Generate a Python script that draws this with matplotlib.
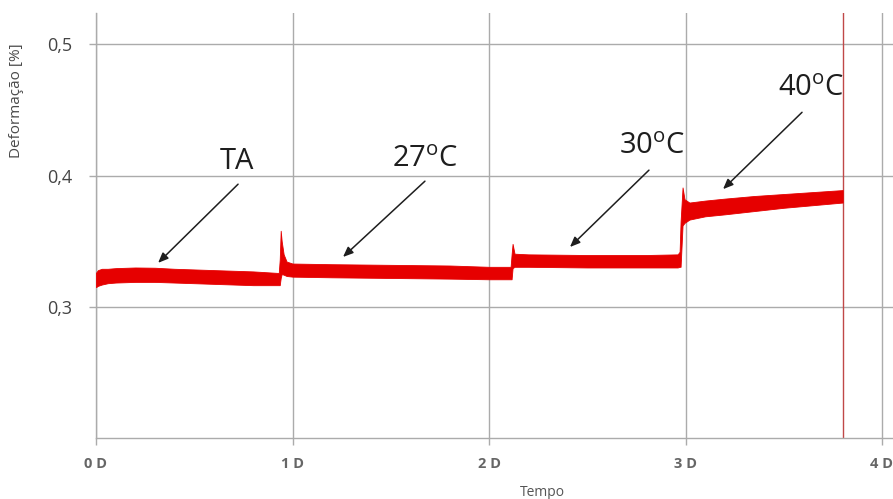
import matplotlib
matplotlib.use("Agg")
import matplotlib.pyplot as plt

plt.rcParams["font.family"] = ["Open Sans", "DejaVu Sans"]

RED = "#e60000"
GRID = "#ababab"
TXT = "#444444"

# deformation band (lower / upper envelope) vs time in days
t = [0.000, 0.010, 0.030, 0.060, 0.100, 0.200, 0.300, 0.400, 0.500, 0.600, 0.700, 0.800, 0.930,
     0.935, 0.940, 0.945, 0.955, 0.970,
     1.000, 1.200, 1.500, 1.800, 2.000, 2.110,
     2.115, 2.120, 2.130,
     2.200, 2.500, 2.800, 2.960, 2.970,
     2.975, 2.985, 2.995,
     3.020, 3.100, 3.200, 3.350, 3.500, 3.650, 3.800]
lo = [0.315, 0.316, 0.317, 0.318, 0.3185, 0.319, 0.319, 0.3185, 0.318, 0.3175, 0.317, 0.3165, 0.3165,
      0.3165, 0.322, 0.325, 0.3245, 0.3235,
      0.323, 0.3225, 0.322, 0.3215, 0.321, 0.321,
      0.321, 0.3295, 0.3305,
      0.3305, 0.330, 0.330, 0.330, 0.3305,
      0.3305, 0.362, 0.364,
      0.3665, 0.369, 0.3705, 0.373, 0.3755, 0.3775, 0.3795]
hi = [0.326, 0.328, 0.329, 0.329, 0.3295, 0.330, 0.3298, 0.329, 0.3285, 0.328, 0.3275, 0.327, 0.3258,
      0.336, 0.358, 0.350, 0.340, 0.3345,
      0.333, 0.3325, 0.332, 0.3315, 0.3305, 0.3305,
      0.340, 0.348, 0.3405,
      0.340, 0.3395, 0.3395, 0.340, 0.342,
      0.365, 0.391, 0.382,
      0.3795, 0.381, 0.3825, 0.3845, 0.386, 0.3875, 0.389]

t_end = 3.80  # end-of-test marker

labels = ["TA", r"27$^\mathregular{o}$C", r"30$^\mathregular{o}$C", r"40$^\mathregular{o}$C"]
label_xy = [(0.718, 0.411), (1.674, 0.4125), (2.83, 0.4225), (3.639, 0.4665)]
arrow_tail = [(0.723, 0.3935), (1.674, 0.3958), (2.814, 0.4042), (3.593, 0.4483)]
arrow_tip = [(0.316, 0.3335), (1.257, 0.338), (2.412, 0.3456), (3.191, 0.3897)]

fig = plt.figure(figsize=(8.93, 4.99), dpi=100)
ax = fig.add_axes([96 / 893, 1 - 438 / 499, 1 - 96 / 893, (438 - 13) / 499])

ax.fill_between(t, lo, hi, color=RED, linewidth=0.6, edgecolor=RED, zorder=3)
ax.axvline(t_end, color="#c04848", linewidth=1.0, zorder=2)

for lab, (tx, ty), (ax0, ay0), (ax1, ay1) in zip(labels, label_xy, arrow_tail, arrow_tip):
    ax.text(tx, ty, lab, fontsize=21, ha="center", va="center", color="#1e1e1e", zorder=5)
    ax.annotate("", xy=(ax1, ay1), xytext=(ax0, ay0),
                arrowprops=dict(arrowstyle="-|>,head_length=0.6,head_width=0.25",
                                color="#1e1e1e", lw=1.1, shrinkA=0, shrinkB=0), zorder=5)

ax.set_xlim(0, (893 - 96) / 196.5)
ax.set_ylim(0.2, 0.524)
ax.set_xticks([0, 1, 2, 3, 4])
ax.set_xticklabels(["0 D", "1 D", "2 D", "3 D", "4 D"], fontsize=10.5, color="#666666",
                   fontweight="bold")
ax.set_yticks([0.3, 0.4, 0.5])
ax.set_yticklabels(["0,3", "0,4", "0,5"], fontsize=13, color=TXT)
ax.tick_params(axis="x", length=5, width=1, color=GRID, pad=9)
ax.tick_params(axis="y", length=5, width=1, color=GRID, pad=12)
ax.grid(True, color=GRID, linewidth=1.0, zorder=0)
ax.set_axisbelow(True)
for side in ["top", "right"]:
    ax.spines[side].set_visible(False)
for side in ["left", "bottom"]:
    ax.spines[side].set_color(GRID)
    ax.spines[side].set_linewidth(1.0)

fig.text(17 / 893, 1 - 101 / 499, "Deformação [%]", rotation=90, ha="center", va="center",
         fontsize=11, color="#4a4a4a")
fig.text(542 / 893, 1 - 492 / 499, "Tempo", ha="center", va="center", fontsize=10,
         color="#555555")

fig.savefig("out.png", dpi=100, facecolor="white")
